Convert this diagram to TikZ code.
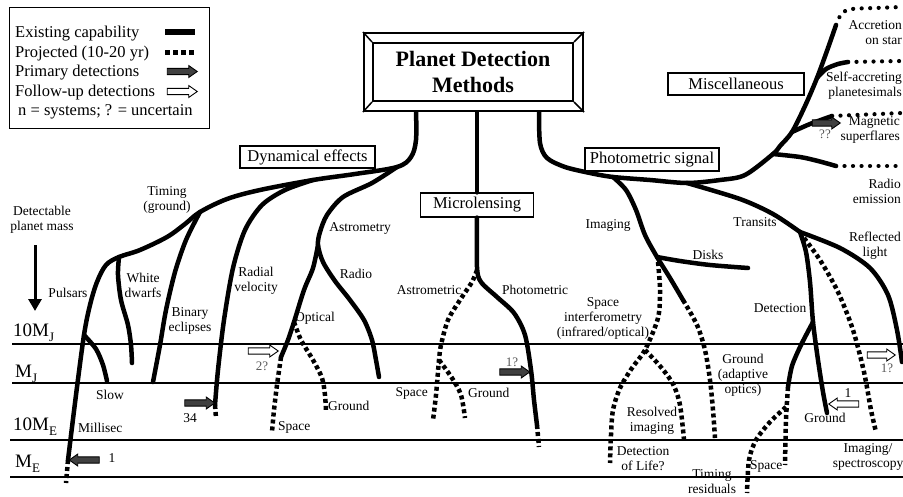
\documentclass[tikz,border=0pt]{standalone}
\usepackage{fontspec}
\setmainfont{Liberation Serif}
\usetikzlibrary{arrows.meta,shapes.arrows}
\newcommand{\msubx}[1]{\raisebox{-0.3em}{\fontsize{13}{13}\selectfont #1}}
\tikzset{
 exist/.style={line width=4.5pt, line cap=round, line join=round},
 proj/.style={line width=4.5pt, dash pattern=on 4pt off 3pt},
 projdot/.style={line width=4.2pt, line cap=round, dash pattern=on 0.01pt off 8.5pt},
 massline/.style={line width=1.6pt},
 lbl/.style={font=\fontsize{13.5}{15}\selectfont, align=center, inner sep=0pt},
 legtxt/.style={font=\fontsize{16.5}{18}\selectfont, inner sep=0pt, anchor=base west},
 boxlbl/.style={draw, line width=1.2pt, fill=white, font=\fontsize{16.5}{18}\selectfont, inner sep=0pt},
 masslbl/.style={font=\fontsize{19}{20}\selectfont, inner sep=0pt, anchor=base west},
 primarr/.style={single arrow, draw, line width=0.9pt, fill=black!75, minimum height=30pt, inner xsep=0pt, inner ysep=2.7pt, single arrow head extend=2.8pt, single arrow tip angle=70, single arrow head indent=0pt},
 follarr/.style={primarr, fill=white},
 qlbl/.style={font=\fontsize{13}{14}\selectfont, text=black!65, inner sep=0pt},
}
\begin{document}
\begin{tikzpicture}[x=1pt,y=-1pt]
\useasboundingbox (0,0) rectangle (903,496);
\fill[white] (0,0) rectangle (903,496);

% ---------- mass levels ----------
\coordinate (a1) at (12,344);  \coordinate (b1) at (903,344);
\coordinate (a2) at (12,383);  \coordinate (b2) at (903,383);
\coordinate (a3) at (10,440);  \coordinate (b3) at (903,440);
\coordinate (a4) at (10,477);  \coordinate (b4) at (903,477);
\draw[massline] (a1) -- (b1);
\draw[massline] (a2) -- (b2);
\draw[massline] (a3) -- (b3);
\draw[line width=2.4pt] (a4) -- (b4);
\node[masslbl] (m1) at (13,336) {10M\msubx{J}};
\node[masslbl] (m2) at (15,377) {M\msubx{J}};
\node[masslbl] (m3) at (13,430) {10M\msubx{E}};
\node[masslbl] (m4) at (15,467) {M\msubx{E}};

% ---------- detectable planet mass ----------
\node[lbl] (det) at (42,220) {Detectable\\planet mass};
\coordinate (da) at (35,245); \coordinate (db) at (35,311);
\draw[line width=3pt, -{Triangle[length=12pt,width=13pt]}] (da) -- (db);

% ---------- legend ----------
\node[draw, line width=1.4pt, minimum width=200pt, minimum height=121pt, anchor=north west, inner sep=0pt] (legend) at (9,7) {};
\node[legtxt] (l1) at (15,37.5) {Existing capability};
\node[legtxt] (l2) at (15,57.5) {Projected (10-20 yr)};
\node[legtxt] (l3) at (15,76.5) {Primary detections};
\node[legtxt] (l4) at (15,96.5) {Follow-up detections};
\node[legtxt] (l5) at (18,115.5) {n = systems; ? = uncertain};
\coordinate (s1a) at (165,32); \coordinate (s1b) at (195,32);
\coordinate (s2a) at (165,52); \coordinate (s2b) at (195,52);
\draw[line width=5.5pt] (s1a) -- (s1b);
\draw[line width=5pt, dash pattern=on 5pt off 3pt] (s2a) -- (s2b);
\node[primarr] (lp) at (180,71.5) {};
\node[follarr] (lf) at (180,91.5) {};

% ---------- Dynamical effects ----------
\coordinate (sL) at (416,111);
\coordinate (dj) at (397,167);
\coordinate (rvj) at (313,180);
\coordinate (tj) at (200,212);
\coordinate (pj) at (119,257);
\coordinate (sj) at (84,335);
\coordinate (msE) at (68,460);
\coordinate (msD) at (66,483);
\coordinate (wdE) at (132,363);
\coordinate (slE) at (107,381);
\coordinate (beE) at (153,382);
\coordinate (rvE) at (215,405);
\coordinate (rvD) at (216,418);
\coordinate (aj) at (318,245);
\coordinate (raE) at (379,377);
\coordinate (opE) at (281,357);
\coordinate (opSp) at (272,432);
\coordinate (opG) at (294,322);
\coordinate (opGE) at (326,412);

\draw[exist] plot[smooth, tension=0.55] coordinates {(sL) (416,140) (411,157) (dj) (355,174) (rvj) (260,190) (227,199) (tj) (185,224) (167,237) (140,250) (pj) (106,265) (97,282) (90,305) (sj) (76,395) (msE)};
\draw[proj] (msE) -- (msD);
\draw[exist] plot[smooth] coordinates {(pj) (118,275) (121,300) (128,325) (131,345) (wdE)};
\draw[exist] plot[smooth] coordinates {(sj) (96,349) (103,365) (slE)};
\draw[exist] plot[smooth] coordinates {(tj) (186,240) (175,272) (166,310) (160,345) (beE)};
\draw[exist] plot[smooth] coordinates {(rvj) (285,190) (262,205) (245,230) (233,268) (224,320) (218,370) (rvE)};
\draw[proj] (rvE) -- (rvD);
\draw[exist] plot[smooth] coordinates {(dj) (372,183) (343,197) (327,215) (320,232) (aj) (323,262) (335,281) (350,300) (364,320) (372,340) (376,360) (raE)};
\draw[exist] plot[smooth] coordinates {(aj) (313,268) (304,290) (opG) (288,340) (opE)};
\draw[proj] plot[smooth] coordinates {(opE) (277,385) (274,410) (opSp)};
\draw[proj] plot[smooth] coordinates {(opG) (301,340) (313,360) (322,378) (325,395) (opGE)};

% ---------- Microlensing ----------
\coordinate (sM) at (477,111);
\coordinate (mj) at (477,267);
\coordinate (mpE) at (537,425);
\coordinate (mpD) at (539,447);
\coordinate (maS) at (433,420);
\coordinate (maG) at (439,360);
\coordinate (maGE) at (465,418);

% ---------- Photometric signal ----------
\coordinate (sR) at (539,111);
\coordinate (ij) at (613,177);
\coordinate (tmj) at (687,183);
\coordinate (rej) at (773,154);
\coordinate (mgj) at (792,132);
\coordinate (saj) at (817,78);
\coordinate (acE) at (836,25);
\coordinate (acD) at (902,7);
\coordinate (saE) at (848,62);  \coordinate (saD) at (902,61);
\coordinate (mgE) at (832,116); \coordinate (mgD) at (902,113);
\coordinate (reE) at (836,166); \coordinate (reD) at (902,166);
\coordinate (imj) at (657,257);
\coordinate (dkE) at (748,268);
\coordinate (aoE) at (683,300);
\coordinate (aoD) at (715,438);
\coordinate (siR) at (645,350);
\coordinate (siE) at (610,463);
\coordinate (rsE) at (684,440);
\coordinate (trj) at (800,232);
\coordinate (rlE) at (902,362);
\coordinate (dtj) at (813,322);
\coordinate (gdE) at (827,413);
\coordinate (lfE) at (788,387);
\coordinate (spE) at (785,465);
\coordinate (trr) at (786,407);
\coordinate (trE) at (747,493);
\coordinate (isS) at (804,238);
\coordinate (isE) at (876,432);

\draw[exist] plot[smooth] coordinates {(sR) (540,143) (547,158) (565,167) (590,173) (ij) (650,180) (tmj) (720,180) (745,175) (rej) (780,146) (mgj) (805,106) (saj) (828,48) (acE)};
\draw[projdot] plot[smooth] coordinates {(acE) (842,13) (852,9) (875,8) (acD)};
\draw[exist] plot[smooth] coordinates {(saj) (826,69) (838,64) (saE)};
\draw[projdot] (saE) -- (saD);
\draw[exist] plot[smooth] coordinates {(mgj) (810,124) (mgE)};
\draw[projdot] (mgE) -- (mgD);
\draw[exist] plot[smooth] coordinates {(rej) (800,157) (818,161) (reE)};
\draw[projdot] (reE) -- (reD);
\draw[exist] plot[smooth] coordinates {(ij) (626,190) (636,210) (645,235) (imj) (670,278) (aoE)};
\draw[exist] plot[smooth] coordinates {(imj) (680,261) (710,265) (dkE)};
\draw[proj] plot[smooth] coordinates {(aoE) (697,325) (705,350) (710,380) (713,410) (aoD)};
\draw[proj] plot[smooth] coordinates {(658,262) (660,290) (658,318) (siR) (632,368) (620,388) (613,410) (611,435) (siE)};
\draw[proj] plot[smooth] coordinates {(siR) (660,366) (673,384) (680,405) (rsE)};
\draw[exist] plot[smooth] coordinates {(tmj) (740,199) (773,214) (trj)};
\draw[exist] plot[smooth] coordinates {(trj) (840,248) (870,268) (888,295) (897,330) (rlE)};
\draw[exist] plot[smooth] coordinates {(trj) (806,252) (810,282) (dtj) (818,360) (823,392) (gdE)};
\draw[exist] plot[smooth] coordinates {(dtj) (801,345) (792,366) (lfE)};
\draw[proj] plot[smooth] coordinates {(lfE) (786,420) (spE)};
\draw[proj] plot[smooth] coordinates {(trr) (770,422) (756,440) (749,460) (trE)};
\draw[proj] plot[smooth] coordinates {(isS) (820,260) (838,292) (853,330) (864,372) (871,410) (isE)};

% ---------- boxes ----------
\node[boxlbl, minimum width=135pt, minimum height=22pt] (dyn) at (307.5,157) {Dynamical effects};
\node[boxlbl, minimum width=113pt, minimum height=24pt] (ml) at (477,205) {Microlensing};
\node[boxlbl, minimum width=134pt, minimum height=23pt] (phot) at (652,159.5) {Photometric signal};
\node[boxlbl, minimum width=136pt, minimum height=22pt] (misc) at (736,84) {Miscellaneous};

\draw[exist] (sM) -- (ml.north);
\draw[exist] plot[smooth] coordinates {(ml.south) (mj) (481,282) (497,297) (514,313) (525,335) (531,370) (534,400) (mpE)};
\draw[proj] (mpE) -- (mpD);
\draw[proj] plot[smooth] coordinates {(477,270) (472,282) (460,300) (448,320) (441,345) (maG) (436,395) (maS)};
\draw[proj] plot[smooth] coordinates {(maG) (452,378) (461,395) (maGE)};

% ---------- title ----------
\node[draw, line width=2pt, fill=white, minimum width=219pt, minimum height=78pt, inner sep=0pt] (title) at (473.5,72) {};
\node[draw, line width=2pt, minimum width=200pt, minimum height=58pt, inner sep=0pt, align=center, font=\fontsize{22}{26}\selectfont\bfseries] (titlein) at (473,72) {Planet Detection\\Methods};
\draw[line width=1.5pt] (title.north west) -- (titlein.north west);
\draw[line width=1.5pt] (title.north east) -- (titlein.north east);
\draw[line width=1.5pt] (title.south west) -- (titlein.south west);
\draw[line width=1.5pt] (title.south east) -- (titlein.south east);

% ---------- labels ----------
\node[lbl] (tim) at (167,199.5) {Timing\\(ground)};
\node[lbl] (pul) at (68,293) {Pulsars};
\node[lbl] (wd) at (143,285) {White\\dwarfs};
\node[lbl] (be) at (190,321) {Binary\\eclipses};
\node[lbl] (rv) at (256,281) {Radial\\velocity};
\node[lbl] (ast) at (360,228) {Astrometry};
\node[lbl] (rad) at (356,274) {Radio};
\node[lbl] (opt) at (315,318) {Optical};
\node[lbl, anchor=west] (osp) at (278,427) {Space};
\node[lbl, anchor=west] (ogr) at (328,406) {Ground};
\node[lbl] (slow) at (110,395) {Slow};
\node[lbl, anchor=west] (msec) at (78,428) {Millisec};
\node[lbl] (astc) at (429,290) {Astrometric};
\node[lbl] (phm) at (535,290) {Photometric};
\node[lbl, anchor=east] (msp) at (428,393) {Space};
\node[lbl, anchor=west] (mgr) at (468,393) {Ground};
\node[lbl] (img) at (608,225) {Imaging};
\node[lbl] (dsk) at (708,255) {Disks};
\node[lbl] (spi) at (603,318) {Space\\interferometry\\(infrared/optical)};
\node[lbl] (gao) at (743,375) {Ground\\(adaptive\\optics)};
\node[lbl] (rsi) at (652,421) {Resolved\\imaging};
\node[lbl] (dol) at (643,459) {Detection\\of Life?};
\node[lbl] (tmr) at (712,482) {Timing\\residuals};
\node[lbl, anchor=west] (tsp) at (750,466) {Space};
\node[lbl] (trn) at (755,222) {Transits};
\node[lbl] (rfl) at (875,246) {Reflected\\light};
\node[lbl] (dtc) at (780,308) {Detection};
\node[lbl] (tgr) at (825,418) {Ground};
\node[lbl] (ims) at (868,457) {Imaging/\\spectroscopy};
\node[lbl, align=right, anchor=east] (acc) at (902,33) {Accretion\\on star};
\node[lbl, align=right, anchor=east] (sac) at (902,86) {Self-accreting\\planetesimals};
\node[lbl, align=right, anchor=east] (mag) at (900,130) {Magnetic\\superflares};
\node[lbl, align=right, anchor=east] (rem) at (901,191) {Radio\\emission};

% ---------- detection arrows ----------
\node[primarr] (ar34) at (197.5,403) {};
\node[lbl] (n34) at (190,418) {34};
\node[primarr, shape border rotate=180] (ar1) at (86.5,460) {};
\node[lbl] (n1) at (112,458) {1};
\node[follarr] (ar2) at (261,351) {};
\node[qlbl] (n2) at (262,366) {2?};
\node[primarr] (arm) at (512.5,372) {};
\node[qlbl] (nm) at (512,362) {1?};
\node[primarr, minimum height=28pt] (arq) at (824,123) {};
\node[qlbl] (nq) at (825,134) {??};
\node[follarr, minimum height=28pt] (arr) at (879,355) {};
\node[qlbl] (nr) at (887,368) {1?};
\node[follarr, shape border rotate=180] (arl) at (846,404) {};
\node[lbl] (nl) at (848,393) {1};
\end{tikzpicture}
\end{document}
